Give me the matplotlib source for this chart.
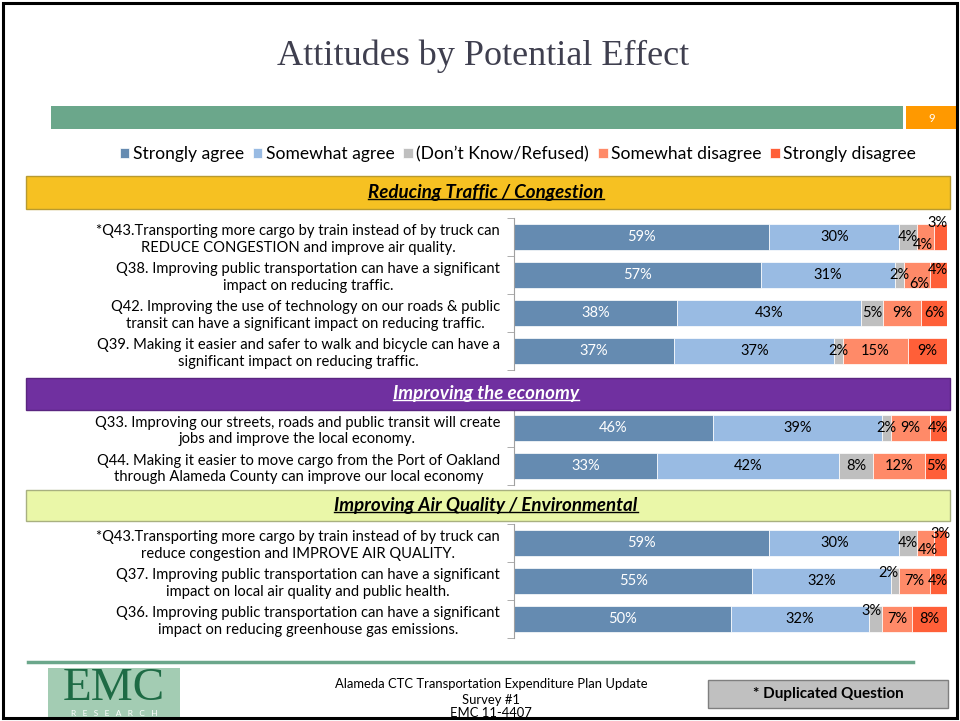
import numpy as np
import matplotlib.pyplot as plt
from matplotlib.patches import Rectangle
from matplotlib.lines import Line2D

# answer categories (legend order) and their colours
categories = ['Strongly agree', 'Somewhat agree', '(Don\u2019t Know/Refused)',
              'Somewhat disagree', 'Strongly disagree']
colors = ['#658BB1', '#99BBE3', '#BFBFBF', '#FF8A68', '#FF5F38']

traffic_q = ['*Q43.Transporting more cargo by train instead of by truck can\nREDUCE CONGESTION and improve air quality.',
             'Q38. Improving public transportation can have a significant\nimpact on reducing traffic.',
             'Q42. Improving the use of technology on our roads & public\ntransit can have a significant impact on reducing traffic.',
             'Q39. Making it easier and safer to walk and bicycle can have a\nsignificant impact on reducing traffic.']
traffic_vals = [[59, 30, 4, 4, 3],
                [57, 31, 2, 6, 4],
                [38, 43, 5, 9, 6],
                [37, 37, 2, 15, 9]]

economy_q = ['Q33. Improving our streets, roads and public transit will create\njobs and improve the local economy.',
             'Q44. Making it easier to move cargo from the Port of Oakland\nthrough Alameda County can improve our local economy']
economy_vals = [[46, 39, 2, 9, 4],
                [33, 42, 8, 12, 5]]

air_q = ['*Q43.Transporting more cargo by train instead of by truck can\nreduce congestion and IMPROVE AIR QUALITY.',
         'Q37. Improving public transportation can have a significant\nimpact on local air quality and public health.',
         'Q36. Improving public transportation can have a significant\nimpact on reducing greenhouse gas emissions.']
air_vals = [[59, 30, 4, 4, 3],
            [55, 32, 2, 7, 4],
            [50, 32, 3, 7, 8]]

# manual nudges of crowded data labels: (section, row, col) -> (dx %, dy rows)
nudges = {(0, 0, 3): (-0.5, 0.21), (0, 0, 4): (-0.8, -0.37),
          (0, 1, 3): (0.5, 0.24), (0, 1, 4): (0, -0.13),
          (2, 0, 3): (0.6, 0.18), (2, 0, 4): (0, -0.24),
          (2, 1, 2): (-1.5, -0.2), (2, 2, 2): (-1.0, -0.2)}

sans = ['Lato', 'DejaVu Sans']
plt.rcParams['font.family'] = sans

W, H = 960, 721
fig = plt.figure(figsize=(9.6, 7.21), dpi=100)


def fx(x):
    return x / W


def fy(y):
    return 1 - y / H


def frect(x0, y0, x1, y1, **kw):
    fig.patches.append(Rectangle((fx(x0), fy(y1)), fx(x1) - fx(x0), fy(y0) - fy(y1),
                                 transform=fig.transFigure, figure=fig, **kw))


# slide frame, title, banner
frect(3, 3, 957, 718, facecolor='none', edgecolor='black', lw=2.2, zorder=10)
fig.text(fx(483), fy(56), 'Attitudes by Potential Effect', ha='center', va='center',
         family=['Liberation Serif'], fontsize=26, color='#3F3F4F')
frect(51, 106, 903, 129, facecolor='#6BA78B', edgecolor='none')
frect(906, 106, 957, 129, facecolor='#FF9900', edgecolor='none')
fig.text(fx(932), fy(118), '9', ha='center', va='center', color='white', fontsize=8)

sections = [
    ('Reducing Traffic / Congestion', '#F6C122', '#B89A30', 'black', (176, 209), (218, 370), traffic_q, traffic_vals),
    ('Improving the economy', '#7030A0', '#5A2580', 'white', (378, 410), (409, 485), economy_q, economy_vals),
    ('Improving Air Quality / Environmental', '#EAF7A8', '#A8B080', 'black', (490, 521), (524, 638), air_q, air_vals),
]

header_texts = []
bars_for_legend = None
for s, (title, bg, edge, tc, (h0, h1), (a0, a1), qs, vals) in enumerate(sections):
    frect(26, h0, 950, h1, facecolor=bg, edgecolor=edge, lw=1)
    t = fig.text(fx(486), fy((h0 + h1) / 2), title, ha='center', va='center',
                 fontsize=13.5, fontweight='bold', fontstyle='italic', color=tc)
    header_texts.append((t, tc))

    ax = fig.add_axes([fx(514), fy(a1), fx(947) - fx(514), fy(a0) - fy(a1)])
    v = np.array(vals, dtype=float)
    pct = v / v.sum(axis=1, keepdims=True) * 100
    y = np.arange(len(qs))
    left = np.zeros(len(qs))
    conts = []
    for j in range(len(categories)):
        c = ax.barh(y, pct[:, j], left=left, height=0.68, color=colors[j],
                    edgecolor='white', linewidth=0.5, label=categories[j])
        conts.append(c)
        for i in range(len(qs)):
            dx, dy = nudges.get((s, i, j), (0, 0))
            ax.text(left[i] + pct[i, j] / 2 + dx, y[i] + dy, f'{vals[i][j]}%',
                    ha='center', va='center', fontsize=10.5,
                    color='white' if j == 0 else 'black', clip_on=False)
        left += pct[:, j]
    if bars_for_legend is None:
        bars_for_legend = conts

    ax.set_xlim(0, 100)
    ax.set_ylim(len(qs) - 0.5, -0.5)
    ax.set_xticks([])
    ax.set_yticks(y)
    ax.set_yticklabels(qs, fontsize=10.6)
    for lab in ax.get_yticklabels():
        lab.set_multialignment('center')
    ax.tick_params(axis='y', which='major', length=0, pad=10)
    ax.set_yticks(np.arange(len(qs) + 1) - 0.5, minor=True)
    ax.tick_params(axis='y', which='minor', length=5, color='#A0A0A0', direction='out')
    for sp in ['top', 'right', 'bottom']:
        ax.spines[sp].set_visible(False)
    ax.spines['left'].set_color('#A0A0A0')
    ax.patch.set_alpha(0)

fig.legend(bars_for_legend, categories, loc='center', bbox_to_anchor=(fx(518), fy(154)),
           ncol=5, frameon=False, fontsize=12.6, handlelength=0.55, handleheight=0.55,
           handletextpad=0.2, columnspacing=0.5, borderaxespad=0)

# footer
fig.lines.append(Line2D([fx(28), fx(913)], [fy(662), fy(662)], transform=fig.transFigure,
                        color='#6BA78B', lw=2.5))
frect(48, 668, 180, 718, facecolor='#A3CCB3', edgecolor='none')
fig.text(fx(114), fy(667), 'EMC', ha='center', va='top', family=['Liberation Serif'],
         fontsize=34, color='#1E6B45')
fig.text(fx(114), fy(717), 'R   E   S   E   A   R   C   H', ha='center', va='bottom',
         fontsize=6, color='white')
fig.text(fx(491), fy(684), 'Alameda CTC Transportation Expenditure Plan Update',
         ha='center', va='center', fontsize=9.4)
fig.text(fx(491), fy(700), 'Survey #1', ha='center', va='center', fontsize=9.4)
fig.text(fx(491), fy(713), 'EMC 11-4407', ha='center', va='center', fontsize=9.4)
frect(708, 680, 948, 708, facecolor='#C0C0C0', edgecolor='#7F7F7F', lw=1)
fig.text(fx(828), fy(694), '* Duplicated Question', ha='center', va='center',
         fontsize=11, fontweight='bold')

# underline the section titles
fig.canvas.draw()
r = fig.canvas.get_renderer()
for t, tc in header_texts:
    bb = t.get_window_extent(r).transformed(fig.transFigure.inverted())
    yl = bb.y0 + 0.003
    fig.lines.append(Line2D([bb.x0, bb.x1], [yl, yl], transform=fig.transFigure,
                            color=tc, lw=1))

fig.savefig('out.png', dpi=100)
